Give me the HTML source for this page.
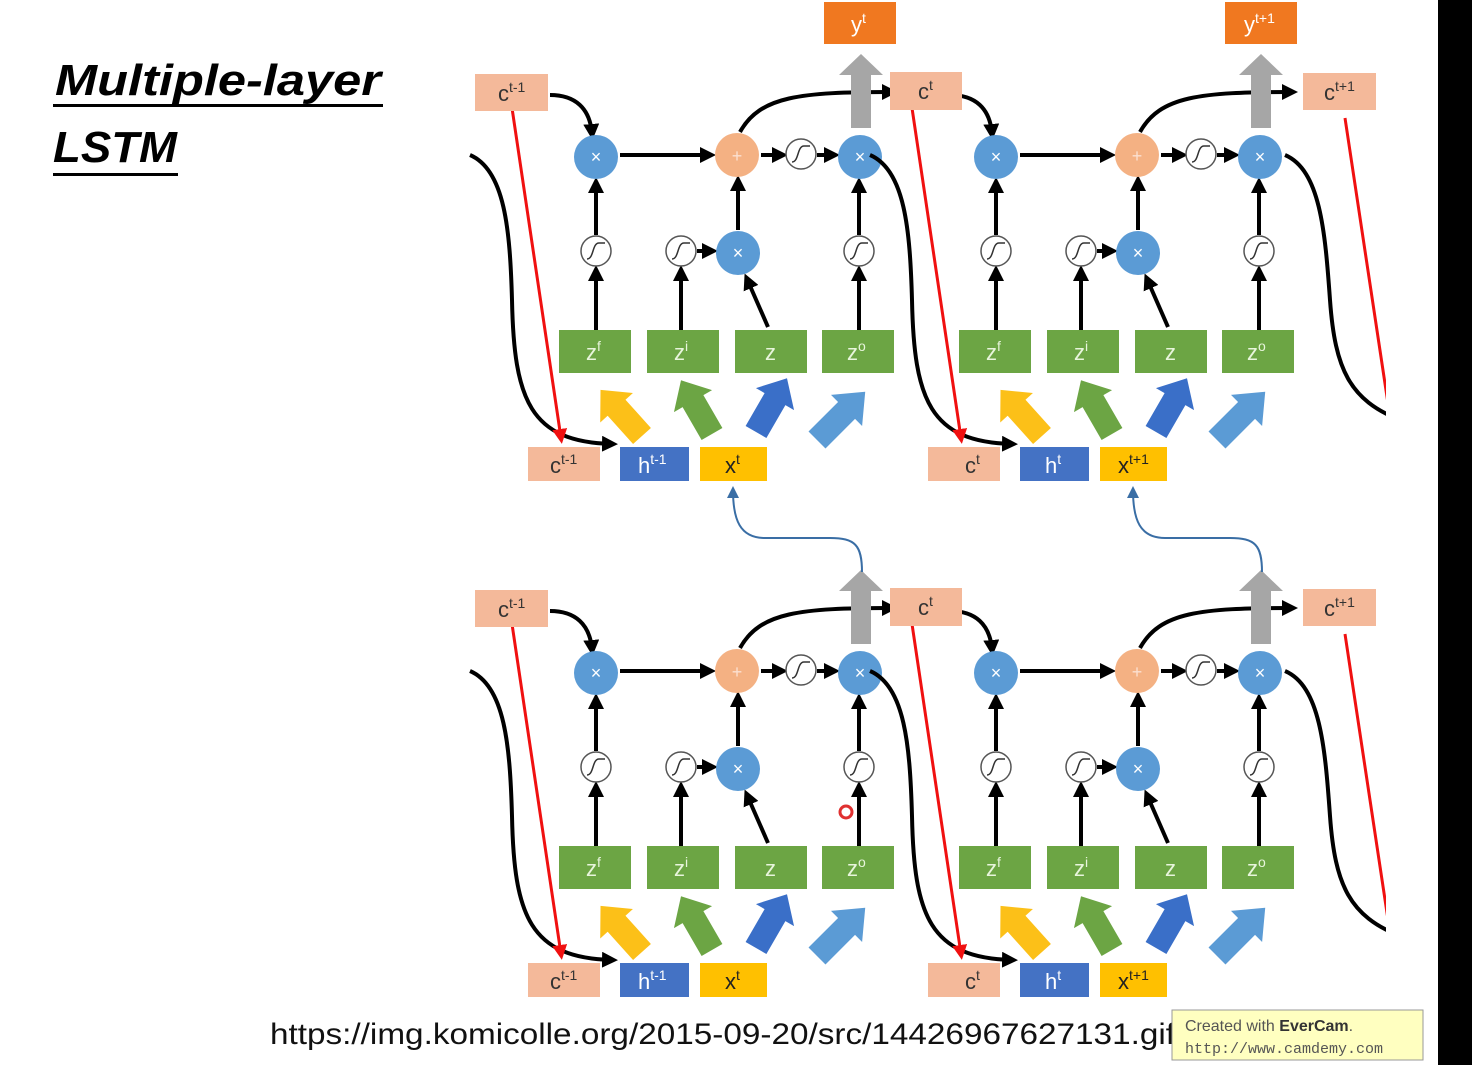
<!DOCTYPE html>
<html><head><meta charset="utf-8"><style>
html,body{margin:0;padding:0;background:#fff;}
svg{display:block;}
.t{font-family:"Liberation Sans",sans-serif;font-size:22px;}
.s{font-size:14px;}
</style></head><body>
<svg width="1472" height="1065" viewBox="0 0 1472 1065" xmlns="http://www.w3.org/2000/svg">
<defs>
<marker id="ab" markerWidth="4" markerHeight="4" refX="2.5" refY="2" orient="auto" markerUnits="strokeWidth"><path d="M0,0 L4,2 L0,4 z" fill="#000"/></marker>
<marker id="ar" markerWidth="5" markerHeight="5" refX="3" refY="2.5" orient="auto" markerUnits="strokeWidth"><path d="M0,0 L5,2.5 L0,5 z" fill="#f01010"/></marker>
<marker id="abl" markerWidth="6" markerHeight="6" refX="4" refY="3" orient="auto" markerUnits="strokeWidth"><path d="M0,0 L6,3 L0,6 z" fill="#3a6ea5"/></marker>
<clipPath id="cl"><rect x="0" y="0" width="1386" height="1065"/></clipPath>
<g id="sig"><circle r="15" fill="#fff" stroke="#555" stroke-width="1.5"/><path d="M-9,8 C-2,8 -4,-8 3,-8 L9,-8" fill="none" stroke="#333" stroke-width="1.5"/></g>
<g id="fat"><polygon points="-12,0 12,0 12,-38 22,-38 0,-62 -22,-38 -12,-38"/></g>
<g id="cell">
  <path d="M470,155 C505,170 510,230 512,300 C514,400 530,442 612,444" fill="none" stroke="#000" stroke-width="4" marker-end="url(#ab)"/>
  <path d="M550,95 C575,95 590,108 592,134" fill="none" stroke="#000" stroke-width="4" marker-end="url(#ab)"/>
  <path d="M740,132 C760,96 800,92 892,92" fill="none" stroke="#000" stroke-width="4" marker-end="url(#ab)"/>
  <line x1="512" y1="108" x2="561" y2="438" stroke="#f01010" stroke-width="3" marker-end="url(#ar)"/>
  <polygon points="851,128 871,128 871,75 883,75 861,54 839,75 851,75" fill="#a6a6a6"/>
  <g stroke="#000" stroke-width="4" fill="none" marker-end="url(#ab)">
    <line x1="620" y1="155" x2="710" y2="155"/>
    <line x1="761" y1="155" x2="782" y2="155"/>
    <line x1="817" y1="155" x2="834" y2="155"/>
    <line x1="596" y1="330" x2="596" y2="271"/>
    <line x1="596" y1="235" x2="596" y2="183"/>
    <line x1="681" y1="330" x2="681" y2="271"/>
    <line x1="697" y1="251" x2="712" y2="251"/>
    <line x1="768" y1="327" x2="747" y2="279"/>
    <line x1="738" y1="230" x2="738" y2="181"/>
    <line x1="859" y1="330" x2="859" y2="271"/>
    <line x1="859" y1="235" x2="859" y2="183"/>
  </g>
  <circle cx="596" cy="157" r="22" fill="#5b9bd5"/>
  <circle cx="860" cy="157" r="22" fill="#5b9bd5"/>
  <circle cx="738" cy="253" r="22" fill="#5b9bd5"/>
  <circle cx="737" cy="155" r="22" fill="#f4b183"/>
  <use href="#sig" x="801" y="154"/>
  <use href="#sig" x="596" y="251"/>
  <use href="#sig" x="681" y="251"/>
  <use href="#sig" x="859" y="251"/>
  <g fill="#6ca544">
    <rect x="559" y="330" width="72" height="43"/>
    <rect x="647" y="330" width="72" height="43"/>
    <rect x="735" y="330" width="72" height="43"/>
    <rect x="822" y="330" width="72" height="43"/>
  </g>
  <use href="#fat" fill="#fcc018" transform="translate(642,436) rotate(-42)"/>
  <use href="#fat" fill="#6ca544" transform="translate(712,434) rotate(-30)"/>
  <use href="#fat" fill="#3a6fc8" transform="translate(756,432) rotate(30)"/>
  <use href="#fat" fill="#5b9bd5" transform="translate(817,440) rotate(45) scale(1,1.1)"/>
  <rect x="528" y="447" width="72" height="34" fill="#f4b99a"/>
  <rect x="620" y="447" width="69" height="34" fill="#4472c4"/>
  <rect x="700" y="447" width="67" height="34" fill="#ffc000"/>
</g>
</defs>

<text x="55" y="95" font-family="Liberation Sans,sans-serif" font-size="44" font-weight="bold" font-style="italic" fill="#000" textLength="326" lengthAdjust="spacingAndGlyphs">Multiple-layer</text>
<rect x="53" y="104" width="330" height="3" fill="#000"/>
<text x="53" y="162" font-family="Liberation Sans,sans-serif" font-size="44" font-weight="bold" font-style="italic" fill="#000" textLength="124" lengthAdjust="spacingAndGlyphs">LSTM</text>
<rect x="53" y="173" width="125" height="3" fill="#000"/>

<use href="#cell"/>
<use href="#cell" x="400"/>
<use href="#cell" y="516"/>
<use href="#cell" x="400" y="516"/>

<g clip-path="url(#cl)">
  <path d="M1285,155 C1320,170 1325,230 1330,300 C1335,370 1350,400 1400,420" fill="none" stroke="#000" stroke-width="4"/>
  <line x1="1345" y1="118" x2="1395" y2="450" stroke="#f01010" stroke-width="3"/>
  <path d="M1285,671 C1320,686 1325,746 1330,816 C1335,886 1350,916 1400,936" fill="none" stroke="#000" stroke-width="4"/>
  <line x1="1345" y1="634" x2="1395" y2="966" stroke="#f01010" stroke-width="3"/>
</g>

<path d="M862,572 C862,545 855,538 830,538 L765,538 C740,538 733,520 733,490" fill="none" stroke="#3a6ea5" stroke-width="2" marker-end="url(#abl)"/>
<path d="M1262,572 C1262,545 1255,538 1230,538 L1165,538 C1140,538 1133,520 1133,490" fill="none" stroke="#3a6ea5" stroke-width="2" marker-end="url(#abl)"/>

<rect x="824" y="2" width="72" height="42" fill="#f07820"/>
<text class="t" x="851" y="32" fill="#fff">y<tspan class="s" dy="-9">t</tspan></text>
<rect x="1225" y="2" width="72" height="42" fill="#f07820"/>
<text class="t" x="1244" y="32" fill="#fff">y<tspan class="s" dy="-9">t+1</tspan></text>

<g fill="#f4b99a">
<rect x="475" y="74" width="73" height="37"/>
<rect x="890" y="72" width="72" height="38"/>
<rect x="1303" y="73" width="73" height="37"/>
<rect x="475" y="590" width="73" height="37"/>
<rect x="890" y="588" width="72" height="38"/>
<rect x="1303" y="589" width="73" height="37"/>
</g>
<g class="t" fill="#333">
<text x="498" y="101">c<tspan class="s" dy="-9">t-1</tspan></text>
<text x="918" y="99">c<tspan class="s" dy="-9">t</tspan></text>
<text x="1324" y="100">c<tspan class="s" dy="-9">t+1</tspan></text>
<text x="498" y="617">c<tspan class="s" dy="-9">t-1</tspan></text>
<text x="918" y="615">c<tspan class="s" dy="-9">t</tspan></text>
<text x="1324" y="616">c<tspan class="s" dy="-9">t+1</tspan></text>
</g>

<g class="t">
  <g fill="#fff" font-size="18" text-anchor="middle">
    <text x="596" y="163">×</text><text x="860" y="163">×</text><text x="738" y="259">×</text><text x="737" y="162" fill="#fbe0d0">+</text>
  </g>
  <g fill="#e8f5dc">
    <text x="586" y="360">z<tspan class="s" dy="-9">f</tspan></text>
    <text x="674" y="360">z<tspan class="s" dy="-9">i</tspan></text>
    <text x="765" y="360">z</text>
    <text x="847" y="360">z<tspan class="s" dy="-9">o</tspan></text>
  </g>
  <text x="550" y="473" fill="#333">c<tspan class="s" dy="-9">t-1</tspan></text>
  <text x="638" y="473" fill="#fff">h<tspan class="s" dy="-9">t-1</tspan></text>
  <text x="725" y="473" fill="#222">x<tspan class="s" dy="-9">t</tspan></text>
</g>
<g class="t" transform="translate(400,0)">
  <g fill="#fff" font-size="18" text-anchor="middle">
    <text x="596" y="163">×</text><text x="860" y="163">×</text><text x="738" y="259">×</text><text x="737" y="162" fill="#fbe0d0">+</text>
  </g>
  <g fill="#e8f5dc">
    <text x="586" y="360">z<tspan class="s" dy="-9">f</tspan></text>
    <text x="674" y="360">z<tspan class="s" dy="-9">i</tspan></text>
    <text x="765" y="360">z</text>
    <text x="847" y="360">z<tspan class="s" dy="-9">o</tspan></text>
  </g>
  <text x="565" y="473" fill="#333">c<tspan class="s" dy="-9">t</tspan></text>
  <text x="645" y="473" fill="#fff">h<tspan class="s" dy="-9">t</tspan></text>
  <text x="718" y="473" fill="#222">x<tspan class="s" dy="-9">t+1</tspan></text>
</g>
<g class="t" transform="translate(0,516)">
  <g fill="#fff" font-size="18" text-anchor="middle">
    <text x="596" y="163">×</text><text x="860" y="163">×</text><text x="738" y="259">×</text><text x="737" y="162" fill="#fbe0d0">+</text>
  </g>
  <g fill="#e8f5dc">
    <text x="586" y="360">z<tspan class="s" dy="-9">f</tspan></text>
    <text x="674" y="360">z<tspan class="s" dy="-9">i</tspan></text>
    <text x="765" y="360">z</text>
    <text x="847" y="360">z<tspan class="s" dy="-9">o</tspan></text>
  </g>
  <text x="550" y="473" fill="#333">c<tspan class="s" dy="-9">t-1</tspan></text>
  <text x="638" y="473" fill="#fff">h<tspan class="s" dy="-9">t-1</tspan></text>
  <text x="725" y="473" fill="#222">x<tspan class="s" dy="-9">t</tspan></text>
</g>
<g class="t" transform="translate(400,516)">
  <g fill="#fff" font-size="18" text-anchor="middle">
    <text x="596" y="163">×</text><text x="860" y="163">×</text><text x="738" y="259">×</text><text x="737" y="162" fill="#fbe0d0">+</text>
  </g>
  <g fill="#e8f5dc">
    <text x="586" y="360">z<tspan class="s" dy="-9">f</tspan></text>
    <text x="674" y="360">z<tspan class="s" dy="-9">i</tspan></text>
    <text x="765" y="360">z</text>
    <text x="847" y="360">z<tspan class="s" dy="-9">o</tspan></text>
  </g>
  <text x="565" y="473" fill="#333">c<tspan class="s" dy="-9">t</tspan></text>
  <text x="645" y="473" fill="#fff">h<tspan class="s" dy="-9">t</tspan></text>
  <text x="718" y="473" fill="#222">x<tspan class="s" dy="-9">t+1</tspan></text>
</g>

<circle cx="846" cy="812" r="6" fill="none" stroke="#e03030" stroke-width="3"/>

<text x="270" y="1044" font-family="Liberation Sans,sans-serif" font-size="30" fill="#111" textLength="905" lengthAdjust="spacingAndGlyphs">https://img.komicolle.org/2015-09-20/src/14426967627131.gif</text>
<rect x="1172" y="1010" width="251" height="50" fill="#ffffc0" stroke="#999" stroke-width="1"/>
<text x="1185" y="1031" font-family="Liberation Sans,sans-serif" font-size="16" fill="#555">Created with <tspan font-weight="bold" fill="#333">EverCam</tspan>.</text>
<text x="1185" y="1053" font-family="Liberation Mono,monospace" font-size="15" fill="#555">http://www.camdemy.com</text>

<rect x="1438" y="0" width="34" height="1065" fill="#000"/>
</svg>
</body></html>
